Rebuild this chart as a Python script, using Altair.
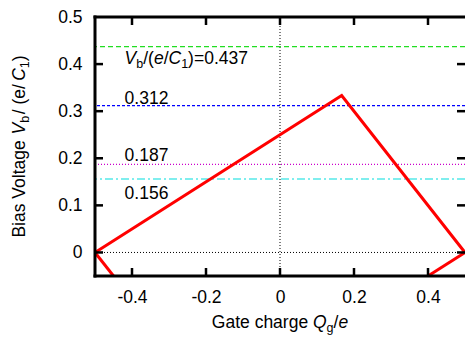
import altair as alt
import pandas as pd

# ---- data ----
x_ticks = [-0.4, -0.2, 0, 0.2, 0.4]
y_ticks = [0, 0.1, 0.2, 0.3, 0.4, 0.5]
x_tick_marks = [-0.4, -0.2, 0, 0.2, 0.4]
y_tick_marks = [0, 0.1, 0.2, 0.3, 0.4]
x_range = [-0.5, 0.5]
y_range = [-0.05, 0.5]

levels = [0.437, 0.312, 0.187, 0.156]
level_colors = ["#22dd22", "#0000ff", "#cc00cc", "#00dddd"]
level_dashes = [[5, 3], [3, 2], [1, 2], [8, 3, 2, 3]]
label_texts = ["0.437", "0.312", "0.187", "0.156"]
label_x = -0.42
label_y = [0.400, 0.316, 0.195, 0.113]

red_seg = ["a", "a", "a", "b", "b", "c", "c"]
red_order = [0, 1, 2, 0, 1, 0, 1]
red_x = [-0.5, 0.1667, 0.5, -0.5, -0.45, 0.5, 0.4]
red_y = [0.0, 0.3333, 0.0, 0.0, -0.05, 0.0, -0.05]

# ---- styling ----
FONT = "Liberation Sans"
FS = 17.5
SUB = 12.5
SUB_DY = 4
W, H = 370, 259
PAD = {"left": 87, "right": 0, "top": 9, "bottom": 61}

# Arial / Liberation Sans advance widths (per 1000 em)
AW = {" ": 278, "/": 278, "(": 333, ")": 333, "=": 584, ".": 278,
      "0": 556, "1": 556, "2": 556, "3": 556, "4": 556, "5": 556, "6": 556, "7": 556, "8": 556, "9": 556,
      "B": 667, "V": 667, "C": 722, "G": 778, "Q": 778,
      "a": 556, "b": 556, "c": 500, "e": 556, "g": 556, "h": 556, "i": 222, "l": 222,
      "o": 556, "r": 333, "s": 500, "t": 278}


def tw(s, size):
    return sum(AW.get(c, 556) for c in s) * size / 1000.0


def seg_size(kind):
    return SUB if kind == "sub" else FS


xs = alt.Scale(domain=x_range, nice=False, zero=False)
ys = alt.Scale(domain=y_range, nice=False, zero=False)

red_df = pd.DataFrame({"seg": red_seg, "o": red_order, "x": red_x, "y": red_y})

base = alt.Chart(red_df).mark_line(color="#ff0000", strokeWidth=3, clip=True).encode(
    x=alt.X("x:Q", scale=xs,
            axis=alt.Axis(values=x_ticks, title=None, domain=False, ticks=False, tickSize=0, grid=False,
                          labelFont=FONT, labelFontSize=FS, labelColor="black", labelPadding=12,
                          labelExpr="toString(datum.value)")),
    y=alt.Y("y:Q", scale=ys,
            axis=alt.Axis(values=y_ticks, title=None, domain=False, ticks=False, tickSize=0, grid=False,
                          labelFont=FONT, labelFontSize=FS, labelColor="black", labelPadding=13,
                          labelExpr="toString(datum.value)")),
    detail="seg:N",
    order="o:Q",
)

layers = []

# dotted zero lines
layers.append(alt.Chart(pd.DataFrame({"y": [0.0]})).mark_rule(
    color="black", strokeWidth=1, strokeDash=[1, 2]).encode(y=alt.Y("y:Q")))
layers.append(alt.Chart(pd.DataFrame({"x": [0.0]})).mark_rule(
    color="black", strokeWidth=1, strokeDash=[1, 2]).encode(x=alt.X("x:Q")))

# level lines
for v, c, d in zip(levels, level_colors, level_dashes):
    layers.append(alt.Chart(pd.DataFrame({"y": [v]})).mark_rule(
        color=c, strokeWidth=1.2, strokeDash=d).encode(y=alt.Y("y:Q")))

layers.append(base)

# frame (left, top, bottom) through the scales; the right edge lies at the picture's edge
left_df = pd.DataFrame({"x": [x_range[0]], "y": [y_range[0]], "y2": [y_range[1]]})
hor_df = pd.DataFrame({"x": [x_range[0]] * 2, "x2": [x_range[1]] * 2, "y": y_range})
layers.append(alt.Chart(left_df).mark_rule(color="black", strokeWidth=3, strokeCap="square").encode(
    x=alt.X("x:Q"), y=alt.Y("y:Q"), y2="y2:Q"))
layers.append(alt.Chart(hor_df).mark_rule(color="black", strokeWidth=3, strokeCap="square").encode(
    x=alt.X("x:Q"), x2="x2:Q", y=alt.Y("y:Q")))

# inward ticks (left/right/bottom/top)
yt = pd.DataFrame({"y": y_tick_marks})
xt = pd.DataFrame({"x": x_tick_marks})
layers.append(alt.Chart(yt).mark_rule(color="black", strokeWidth=2.5).encode(
    y=alt.Y("y:Q"), x=alt.value(0), x2=alt.value(8)))
layers.append(alt.Chart(yt).mark_rule(color="black", strokeWidth=2.5).encode(
    y=alt.Y("y:Q"), x=alt.value(W - 8), x2=alt.value(W)))
layers.append(alt.Chart(xt).mark_rule(color="black", strokeWidth=2.5).encode(
    x=alt.X("x:Q"), y=alt.value(H - 8), y2=alt.value(H)))
layers.append(alt.Chart(xt).mark_rule(color="black", strokeWidth=2.5).encode(
    x=alt.X("x:Q"), y=alt.value(0), y2=alt.value(8)))


def rich_data_label(segs, xv, yv):
    out = []
    off = 0.0
    for s, kind in segs:
        size = seg_size(kind)
        out.append(alt.Chart(pd.DataFrame({"x": [xv], "y": [yv], "t": [s]})).mark_text(
            align="left", baseline="alphabetic", font=FONT, fontSize=size,
            fontStyle="italic" if kind == "i" else "normal", color="black",
            dx=off, dy=SUB_DY if kind == "sub" else 0).encode(
            x=alt.X("x:Q"), y=alt.Y("y:Q"), text="t:N"))
        off += tw(s, size)
    return out


# in-plot labels
first = [("V", "i"), ("b", "sub"), ("/(", "n"), ("e", "i"), ("/", "n"), ("C", "i"), ("1", "sub"),
         (")=" + label_texts[0], "n")]
layers += rich_data_label(first, label_x, label_y[0])
for t, yv in zip(label_texts[1:], label_y[1:]):
    layers += rich_data_label([(t, "n")], label_x, yv)

# x title (horizontal, pixel positioned relative to plot area)
xt_segs = [("Gate charge ", "n"), ("Q", "i"), ("g", "sub"), ("/", "n"), ("e", "i")]
L = sum(tw(s, seg_size(k)) for s, k in xt_segs)
px = W / 2 - L / 2
for s, k in xt_segs:
    size = seg_size(k)
    layers.append(alt.Chart(pd.DataFrame({"t": [s]})).mark_text(
        align="left", baseline="alphabetic", font=FONT, fontSize=size,
        fontStyle="italic" if k == "i" else "normal", color="black").encode(
        x=alt.value(px), y=alt.value(H + 52 + (SUB_DY if k == "sub" else 0)), text="t:N"))
    px += tw(s, size)

# y title (rotated)
yt_segs = [("Bias Voltage ", "n"), ("V", "i"), ("b", "sub"), (" / (e/", "n"), ("C", "i"), ("1", "sub"), (")", "n")]
shifts = {" / (e/": 1.5, "C": -1.5}
L = sum(tw(s, seg_size(k)) for s, k in yt_segs)
py = H / 2 + L / 2
for s, k in yt_segs:
    size = seg_size(k)
    shift = shifts.get(s, 0)
    layers.append(alt.Chart(pd.DataFrame({"t": [s]})).mark_text(
        align="left", baseline="alphabetic", font=FONT, fontSize=size, angle=270,
        fontStyle="italic" if k == "i" else "normal", color="black").encode(
        x=alt.value(-70 + (SUB_DY if k == "sub" else 0)), y=alt.value(py - shift), text="t:N"))
    py -= tw(s, size) + shift

chart = alt.layer(*layers).properties(
    width=W, height=H,
    padding=PAD,
    background="white",
    autosize=alt.AutoSizeParams(type="none"),
).configure_view(strokeWidth=0)

chart.save("out.html", embed_options={"renderer": "svg", "actions": False})
